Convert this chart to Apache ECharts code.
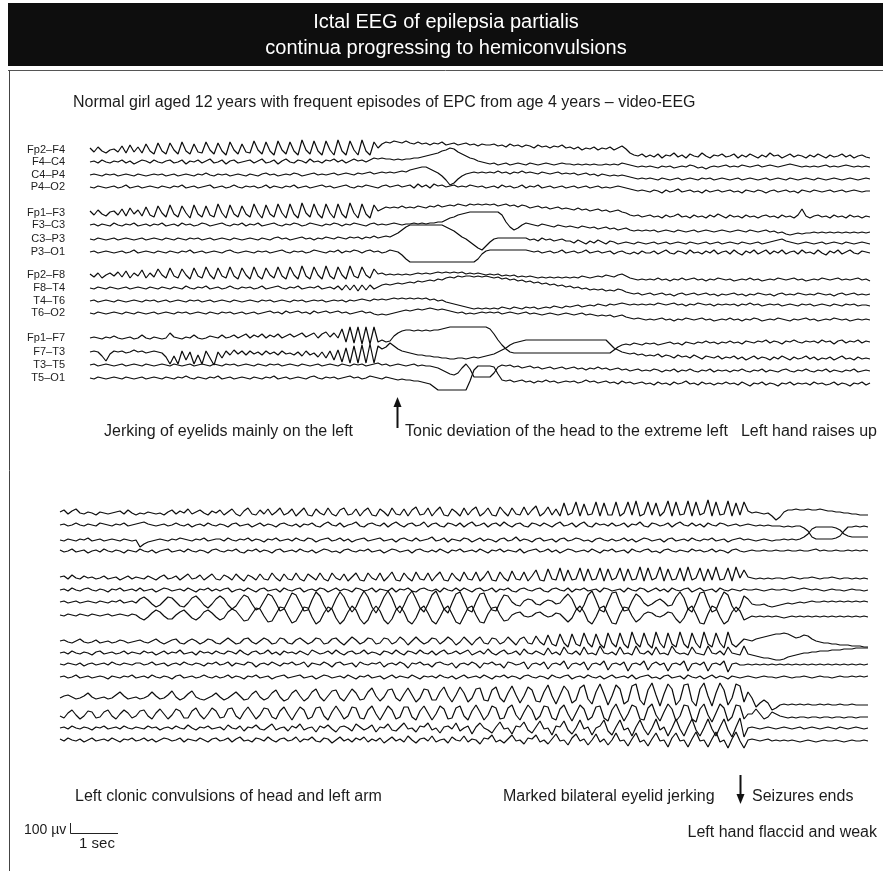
<!DOCTYPE html>
<html>
<head>
<meta charset="utf-8">
<script src="https://cdn.jsdelivr.net/npm/echarts@6/dist/echarts.min.js"></script>
<style>
  html, body { margin: 0; padding: 0; background: #ffffff; }
  #chart { width: 883px; height: 871px; }
</style>
</head>
<body>
<div id="chart"></div>
<script>
// ---- Montage (bipolar double banana) ----
const channelLabels = ['Fp2–F4', 'F4–C4', 'C4–P4', 'P4–O2',
                       'Fp1–F3', 'F3–C3', 'C3–P3', 'P3–O1',
                       'Fp2–F8', 'F8–T4', 'T4–T6', 'T6–O2',
                       'Fp1–F7', 'F7–T3', 'T3–T5', 'T5–O1'];

// ---- Page 1: onset (jerking of eyelids -> tonic deviation) ----
// deflection per sample, 1 unit = 10 µV, positive = up; 12 samples per second
const p1Fp2F4 = [2,-2,3,-1,-3,0,1,-2,4,-3,5,-2,3,-3,6,-1,-4,7,-1,-4,
  7,0,-4,8,-1,-4,6,-2,-3,8,0,-4,7,-1,-5,8,0,-4,6,-2,
  -3,9,0,-4,8,-1,-5,9,0,-4,8,-1,-5,10,0,-4,9,-1,-5,9,
  0,-5,10,-1,-5,9,0,-5,10,-1,-5,8,2,6,8,7,9,8,7,9,
  7,6,8,6,7,5,7,6,8,5,6,7,5,6,7,5,6,4,6,5,
  5,6,4,5,3,6,4,5,3,5,4,2,5,3,4,2,4,3,5,2,
  3,1,3,0,2,1,3,0,2,1,3,0,2,4,1,-3,-5,-6,-4,-7,
  -5,-7,-4,-8,-5,-6,-3,-7,-5,-8,-4,-6,-7,-3,-6,-8,-5,-6,-4,-7,
  -6,-4,-8,-5,-7,-4,-6,-8,-5,-7,-3,-6,-5,-8,-6,-4,-7,-5,-6,-8,
  -5,-7,-4,-6,-8,-5,-7,-6,-4,-7,-5,-8,-6,-5,-7,-8];
const p1F4C4 = [0,1,-1,2,0,-1,1,0,2,-1,1,-2,0,2,1,-1,2,0,-1,1,
  2,-1,0,2,-2,1,0,2,-1,1,3,-1,0,2,-2,1,2,-1,0,1,
  2,-1,1,3,-1,0,2,-2,1,3,0,-1,2,1,-1,3,0,1,-1,2,
  1,3,0,2,-1,1,3,1,2,0,2,4,3,4,3,3,2,3,2,3,
  3,4,4,5,6,7,8,9,11,12,14,13,10,8,6,4,3,1,0,-1,
  -2,-1,-3,-2,-1,-3,-2,-1,-2,-3,-1,-2,-3,-2,-1,-2,-3,-2,-1,-2,
  -2,-3,-2,-3,-2,-3,-2,-3,-3,-2,-3,-2,-3,-1,-2,-3,-4,-5,-4,-5,
  -4,-5,-6,-4,-5,-4,-6,-5,-4,-5,-3,-4,-6,-5,-7,-5,-4,-5,-4,-3,
  -5,-4,-5,-3,-4,-5,-4,-3,-5,-4,-3,-4,-5,-4,-3,-2,-3,-4,-5,-4,
  -5,-4,-5,-4,-3,-5,-4,-5,-4,-3,-4,-5,-4,-5,-4,-5];
const p1C4P4 = [0,1,0,-1,1,0,1,-1,0,1,0,-1,1,0,-1,0,1,0,1,-1,
  0,1,-1,0,1,0,-1,1,0,2,0,-1,1,0,1,-1,0,1,0,-1,
  1,0,-1,1,2,0,1,-1,0,1,0,2,1,-1,0,1,2,0,1,0,
  1,2,0,1,2,1,0,2,1,2,3,1,2,3,2,3,2,3,4,3,
  5,6,7,8,8,6,4,2,-1,-5,-10,-8,-4,-1,1,2,3,2,3,2,
  3,2,4,2,3,1,3,2,4,2,3,2,1,3,2,1,2,3,1,2,
  1,2,0,1,2,0,1,-1,1,0,-1,0,-1,0,-1,-2,-3,-4,-3,-4,
  -3,-4,-5,-3,-4,-5,-4,-3,-5,-4,-3,-4,-5,-3,-4,-3,-5,-4,-3,-4,
  -5,-4,-3,-5,-4,-3,-4,-5,-4,-3,-5,-4,-3,-4,-5,-3,-4,-5,-4,-3,
  -4,-5,-3,-4,-5,-4,-3,-4,-5,-4,-3,-4,-5,-4,-3,-4];
const p1P4O2 = [0,-1,1,0,-1,0,1,-1,0,2,-1,0,1,-1,0,1,0,-1,1,0,
  -1,1,0,2,-1,0,1,-1,0,1,2,-1,0,1,-1,0,2,0,-1,1,
  0,1,-1,0,2,-1,1,0,-1,1,0,2,-1,0,1,-1,0,1,2,0,
  1,-1,0,1,2,0,-1,1,0,2,1,0,-1,1,2,0,1,2,0,1,
  2,-1,3,0,2,-1,3,1,2,0,1,2,0,1,0,2,1,0,1,-1,
  0,1,-1,2,0,1,-1,0,2,-1,1,0,2,-1,0,1,-1,0,1,-1,
  0,1,-1,0,1,-1,0,1,-1,0,-1,0,1,0,-1,-2,-3,-4,-3,-4,
  -5,-3,-4,-6,-3,-5,-4,-2,-5,-4,-3,-5,-4,-6,-3,-5,-4,-3,-5,-4,
  -3,-5,-4,-6,-3,-4,-5,-3,-4,-6,-4,-3,-5,-4,-3,-5,-4,-6,-3,-4,
  -5,-3,-4,-5,-4,-3,-5,-4,-3,-5,-4,-3,-4,-5,-4,-4];
const p1Fp1F3 = [2,-2,3,-1,-3,1,2,-2,4,-3,5,-1,3,-3,6,-2,-4,7,0,-4,
  8,-1,-4,7,0,-5,8,-1,-4,7,-2,-4,9,0,-5,8,-1,-4,7,-1,
  -4,9,0,-5,8,-1,-4,9,0,-5,9,-1,-5,10,0,-4,9,-1,-5,9,
  0,-5,9,-1,-5,10,0,-5,9,-1,-5,8,2,4,6,5,6,5,7,5,
  6,5,7,6,5,7,6,8,6,7,8,7,9,8,7,9,8,9,8,9,
  8,9,7,8,9,7,8,6,8,7,5,6,7,5,6,4,5,6,4,5,
  4,3,5,3,4,2,3,4,2,3,1,2,3,1,0,-2,-3,-2,-4,-3,
  -2,-4,-3,-5,-2,-4,-3,-1,-4,-3,-5,-2,-4,-3,-5,-2,-4,-1,-3,-5,
  -2,-4,-3,-5,-2,-4,-3,-5,-3,-2,-4,-3,-5,-2,-4,-3,-5,-2,4,-3,
  -5,-3,-2,-4,-3,-5,-2,-4,-3,-5,-2,-4,-3,-5,-3,-4];
const p1F3C3 = [0,1,-1,1,0,-1,2,0,-1,1,0,2,-1,0,1,-1,1,0,2,-1,
  0,1,-1,2,0,1,-1,0,2,1,-1,0,1,2,0,-1,1,0,2,-1,
  1,0,2,-1,0,1,2,0,-1,1,0,2,1,-1,0,2,1,0,-1,1,
  0,2,1,-1,1,0,2,1,0,-1,1,2,0,1,0,1,2,1,0,1,
  1,2,1,2,1,2,2,3,3,5,7,8,10,11,12,13,13,13,13,13,
  13,13,13,10,3,-2,-5,-3,0,2,1,0,-1,1,0,-1,-2,0,-1,-2,
  -1,-2,-3,-1,-2,-3,-2,-4,-3,-2,-4,-3,-5,-4,-3,-5,-6,-5,-6,-5,
  -6,-5,-7,-6,-5,-6,-7,-5,-6,-7,-6,-5,-7,-6,-5,-6,-7,-6,-5,-6,
  -7,-6,-5,-6,-7,-5,-6,-7,-6,-5,-7,-6,-8,-7,-9,-10,-9,-8,-9,-8,
  -8,-7,-8,-7,-8,-7,-8,-7,-8,-7,-8,-7,-8,-7,-8,-7];
const p1C3P3 = [0,-1,1,0,-1,0,1,-1,0,1,0,-1,0,1,-1,0,1,0,-1,1,
  0,-1,1,0,-1,1,0,1,-1,0,1,-1,0,1,0,-1,1,0,-1,0,
  1,0,-1,1,0,-1,1,2,0,1,-1,0,1,2,0,1,-1,1,0,2,
  1,0,2,1,0,2,1,2,0,2,1,3,1,2,3,2,4,6,9,12,
  14,14,14,14,14,14,14,14,14,12,10,8,5,2,0,-3,-6,-9,-11,-7,
  -3,0,1,1,1,1,1,1,1,1,-1,0,-2,1,-1,0,-2,-1,0,-2,
  -2,-4,-1,-3,-5,-2,-4,-1,-3,-5,-2,-3,-5,-4,-3,-4,-5,-3,-4,-5,
  -4,-3,-5,-4,-3,-5,-4,-3,-4,-5,-3,-4,-5,-4,-3,-5,-4,-3,-5,-4,
  -3,-4,-5,-3,-4,-5,-4,-3,-5,-4,-3,-2,-1,0,-2,-3,-4,-5,-4,-3,
  -4,-5,-4,-3,-5,-4,-3,-4,-5,-3,-4,-5,-4,-3,-4,-5];
const p1P3O1 = [0,1,-1,0,1,0,-1,0,1,-1,0,2,-1,0,1,0,-1,1,0,-1,
  1,0,-1,1,0,2,-1,0,1,-1,0,1,0,-1,1,2,0,-1,0,1,
  0,-1,1,0,1,-1,0,1,2,0,-1,1,0,1,-1,0,2,1,0,-1,
  1,0,2,-1,1,0,2,1,-1,1,2,0,1,-1,0,2,1,0,-3,-7,
  -10,-10,-10,-10,-10,-10,-10,-10,-10,-10,-10,-10,-10,-10,-10,-10,-10,-7,-2,1,
  2,2,2,2,2,2,2,2,2,2,1,0,1,-1,0,1,-1,0,2,-1,
  0,1,-1,0,2,-1,0,1,-1,0,1,-2,0,1,-1,-2,0,-2,1,-1,
  -1,1,-2,0,2,-1,-2,1,0,-2,2,-1,0,-2,1,-1,2,-2,0,1,
  -2,2,-1,-3,1,-1,2,-2,0,2,-2,1,-1,2,-2,0,1,-2,2,-1,
  0,-2,2,-1,-3,1,-1,2,-2,0,2,-1,-2,1,0,-1];
const p1Fp2F8 = [1,-2,2,-3,0,2,-1,3,-2,4,-3,2,-1,5,-3,2,-2,6,0,-3,
  7,-1,-3,6,0,-4,7,-1,-3,8,0,-4,7,-1,-3,8,-1,-4,7,0,
  -4,8,-1,-4,7,0,-3,8,-1,-4,8,0,-4,9,-1,-4,8,0,-4,9,
  -1,-4,8,0,-4,9,-1,-3,8,0,-3,6,1,2,0,1,0,1,0,1,
  0,1,2,1,2,1,2,3,2,3,2,3,2,3,1,2,1,2,1,0,
  1,0,1,-1,0,-1,0,-2,-1,-2,-1,-2,-3,-2,-3,-2,-3,-2,-3,-2,
  -3,-2,-3,-1,-2,-3,-2,-1,-2,0,-1,-2,0,1,-1,-3,-4,-5,-4,-5,
  -4,-5,-3,-5,-4,-6,-4,-5,-3,-5,-4,-3,-5,-4,-6,-4,-5,-3,-4,-5,
  -4,-6,-5,-4,-5,-3,-5,-4,-6,-5,-4,-5,-3,-4,-5,-4,-3,-5,-4,-6,
  -5,-4,-5,-3,-4,-5,-4,-3,-5,-4,-5,-4,-3,-5,-4,-6];
const p1F8T4 = [0,-1,1,0,-1,1,0,-1,0,1,-1,0,1,0,-1,1,0,-1,1,0,
  -1,1,0,-1,2,0,-1,1,0,2,-1,0,1,-1,0,2,0,-1,1,0,
  1,-1,0,2,-1,0,1,2,0,-1,1,0,2,-1,0,1,0,2,-1,0,
  1,-1,2,-2,3,-2,3,-3,3,-2,3,-1,1,3,4,3,4,5,4,5,
  6,5,7,6,7,8,7,9,8,10,11,10,12,11,12,12,11,12,11,12,
  11,10,11,9,10,8,9,7,8,6,7,5,6,4,5,3,4,2,3,1,
  2,0,1,-1,0,-2,-1,-2,-1,-3,-2,-3,-1,-2,-4,-5,-6,-5,-7,-6,
  -5,-7,-6,-5,-7,-6,-8,-6,-5,-7,-6,-5,-7,-6,-5,-7,-6,-8,-6,-7,
  -6,-5,-7,-6,-8,-6,-7,-5,-6,-7,-6,-8,-6,-5,-7,-6,-7,-5,-6,-7,
  -6,-7,-5,-6,-7,-6,-8,-6,-5,-7,-6,-5,-7,-6,-7,-6];
const p1T4T6 = [0,1,-1,0,1,0,-1,1,0,-1,0,1,0,-1,1,0,1,-1,0,1,
  -1,0,1,0,-1,1,0,1,-1,0,1,-1,0,1,0,-1,1,0,-1,0,
  1,0,-1,1,0,1,-1,0,1,0,-1,1,0,1,-1,0,1,0,1,-1,
  0,1,0,1,-1,1,0,1,2,1,0,2,1,2,1,2,3,2,3,2,
  3,2,3,2,3,1,2,0,1,-1,-2,-3,-4,-5,-6,-7,-8,-7,-8,-7,
  -8,-7,-8,-6,-7,-8,-6,-7,-8,-6,-7,-6,-8,-7,-6,-7,-5,-6,-7,-5,
  -6,-5,-4,-6,-5,-4,-5,-3,-4,-5,-3,-4,-3,-2,-3,-4,-3,-4,-3,-4,
  -3,-4,-2,-3,-4,-3,-2,-4,-3,-5,-3,-4,-2,-3,-4,-3,-5,-3,-4,-3,
  -4,-3,-5,-3,-4,-2,-4,-3,-5,-4,-3,-4,-3,-5,-4,-3,-4,-5,-3,-4,
  -3,-5,-4,-3,-4,-5,-3,-4,-5,-3,-4,-3,-5,-4,-4,-5];
const p1T6O2 = [0,-1,1,0,-1,0,1,0,-1,1,0,-1,1,0,-1,0,1,-1,0,1,
  0,-1,1,0,1,-1,0,1,0,-1,1,0,-1,1,0,1,-1,0,1,-1,
  0,1,-1,0,1,2,0,1,-1,2,0,1,2,0,1,-1,2,0,1,2,
  0,1,2,0,1,-1,0,1,2,0,1,-1,-2,-1,-2,-1,0,1,2,3,
  2,3,4,3,4,5,4,3,4,3,2,1,0,1,-1,0,-1,0,1,0,
  1,0,1,-1,0,1,0,-1,0,1,-1,0,-1,-2,-1,0,-1,-2,-1,0,
  -1,-2,-1,0,-2,-1,-2,-3,-2,-3,-2,-4,-3,-2,-4,-5,-6,-5,-6,-7,
  -6,-7,-6,-5,-7,-6,-8,-6,-7,-5,-6,-7,-6,-5,-7,-6,-8,-7,-6,-7,
  -5,-7,-6,-8,-6,-7,-5,-6,-8,-7,-6,-7,-5,-6,-7,-8,-6,-7,-6,-5,
  -7,-6,-8,-7,-6,-7,-5,-6,-7,-6,-8,-7,-6,-7,-6,-7];
const p1Fp1F7 = [0,1,0,-1,1,0,2,0,-1,0,1,-1,0,3,0,-1,1,0,-1,0,
  5,1,0,-1,1,0,3,0,-1,0,2,1,0,3,0,1,3,0,2,4,
  0,3,1,4,0,3,1,4,0,2,4,1,3,5,1,3,5,0,4,6,
  1,5,0,9,-4,11,-5,11,-6,11,-6,11,-4,-2,-4,-3,2,5,7,8,
  8,7,8,7,8,7,8,8,9,10,11,11,11,11,11,11,11,11,11,11,
  9,4,-2,-7,-11,-14,-15,-15,-15,-15,-15,-15,-15,-15,-15,-15,-15,-15,-15,-15,
  -15,-15,-15,-15,-15,-15,-15,-15,-15,-15,-15,-12,-9,-7,-6,-7,-5,-6,-7,-5,
  -6,-5,-7,-6,-5,-4,-6,-5,-7,-4,-5,-6,-4,-5,-3,-5,-4,-6,-4,-5,
  -3,-5,-4,-6,-3,-4,-5,-3,-4,-2,-5,-3,-4,-6,-3,-4,-2,-4,-5,-3,
  -4,-3,-5,-2,-4,-3,-6,-3,-2,-5,-3,-4,-2,-5,-3,-4];
const p1F7T3 = [0,1,0,-4,-9,-2,1,0,1,-1,0,2,0,1,-1,0,1,0,-1,-5,
  -12,-4,-12,1,-8,0,-12,-3,-12,1,-6,-13,0,-6,1,-3,2,-2,1,-3,
  1,-2,0,-3,1,-2,0,-3,1,-2,-1,-3,0,-4,1,-3,-1,-5,0,-6,
  1,-8,2,-10,4,-11,6,-11,7,-11,8,-11,6,3,5,9,6,3,1,0,
  -1,-2,-3,-3,-4,-4,-5,-5,-6,-6,-7,-7,-6,-6,-7,-6,-5,-6,-5,-4,
  -3,-2,0,2,4,7,9,10,11,12,12,12,12,12,12,12,12,12,12,12,
  12,12,12,12,12,12,12,12,12,12,8,4,2,0,-1,-2,-1,-3,-2,-4,
  -3,-4,-2,-5,-3,-4,-6,-3,-5,-4,-6,-3,-5,-7,-4,-5,-6,-4,-7,-5,
  -6,-4,-7,-5,-8,-6,-4,-7,-5,-6,-8,-5,-7,-4,-6,-8,-5,-7,-6,-4,
  -7,-5,-8,-6,-7,-5,-8,-6,-4,-7,-6,-8,-5,-7,-6,-7];
const p1T3T5 = [0,1,-1,0,1,0,-1,0,1,-1,0,1,0,-1,1,0,-1,0,1,0,
  -1,1,0,-1,0,1,-1,0,1,0,-1,1,0,-1,1,0,1,-1,0,1,
  0,-1,1,0,-1,1,0,1,-1,0,1,0,-1,1,0,-1,0,1,-1,0,
  1,0,-1,1,0,-1,1,0,1,-1,0,1,2,0,1,-1,0,1,0,-1,
  0,1,-1,0,-1,-1,-2,-3,-5,-7,-9,-10,-8,-3,1,-4,-12,-12,-12,-12,
  -12,-8,-2,0,-1,0,-2,-1,-3,-2,-1,-3,-2,-4,-3,-2,-4,-3,-2,-4,
  -3,-2,-4,-3,-5,-3,-4,-2,-4,-3,-5,-4,-3,-5,-4,-6,-5,-4,-6,-5,
  -6,-4,-5,-7,-5,-6,-4,-7,-5,-6,-4,-6,-7,-5,-6,-4,-7,-5,-6,-5,
  -7,-5,-6,-4,-6,-7,-5,-6,-4,-7,-5,-6,-7,-5,-4,-6,-7,-5,-6,-4,
  -6,-7,-5,-6,-4,-7,-5,-6,-7,-5,-6,-4,-7,-6,-5,-6];
const p1T5O1 = [0,-1,1,0,-1,0,1,0,-1,1,0,-1,0,1,-1,0,1,0,-1,1,
  0,-1,1,0,2,0,-1,1,0,-1,1,0,2,-1,0,1,-1,0,1,0,
  -1,1,0,-1,1,0,2,-1,0,1,-1,0,1,0,-1,1,2,0,-1,1,
  0,1,-1,0,1,2,0,1,-1,0,2,1,0,-1,1,0,-1,-2,-1,-2,
  -2,-3,-3,-4,-5,-6,-9,-12,-12,-12,-12,-12,-12,-12,-12,-3,8,12,12,12,
  12,11,4,-2,-3,-2,-4,-3,-2,-4,-3,-5,-3,-4,-2,-4,-3,-5,-4,-3,
  -4,-3,-5,-4,-2,-4,-3,-5,-4,-3,-5,-4,-6,-3,-5,-4,-6,-5,-4,-6,
  -5,-7,-4,-6,-5,-7,-4,-6,-5,-3,-6,-5,-7,-4,-6,-5,-7,-5,-6,-4,
  -6,-5,-7,-4,-6,-8,-5,-6,-4,-7,-5,-6,-8,-5,-6,-4,-7,-5,-6,-5,
  -7,-4,-6,-5,-7,-6,-4,-7,-5,-6,-8,-5,-6,-4,-7,-5];

// ---- Page 2: clonic phase (left clonic convulsions -> seizure end) ----
const p2Fp2F4 = [1,3,-1,2,4,0,-1,1,0,-2,1,0,-1,0,1,2,-1,3,0,-2,
  0,-1,1,0,-1,0,-2,1,3,-1,2,0,4,-1,1,3,0,-2,2,0,
  3,-2,1,4,-1,-3,2,5,-1,-2,3,-1,4,-2,1,5,-2,0,4,-3,
  1,5,-2,-3,4,0,-2,5,-1,-3,3,5,-2,-1,4,-3,2,5,-2,-3,
  4,1,-3,5,-1,-2,4,-3,3,6,-2,-1,5,-3,2,6,-2,-3,4,1,
  -3,5,-2,3,6,-3,0,5,-2,-3,6,1,-3,5,-1,-2,6,-2,3,7,
  -3,0,6,-2,4,-3,10,-2,0,11,-3,9,-2,-1,11,-3,10,-2,-2,11,
  -3,0,11,-2,12,-3,-1,11,-2,10,-3,1,12,-3,11,-2,-1,12,-3,11,
  -2,0,13,-3,11,-2,-1,12,-3,10,-2,11,2,0,1,0,-1,0,-3,-7,
  -4,1,3,3,4,3,3,4,3,3,4,3,2,2,1,1,0,0,-1,-1,
  -2,-2,-2];
const p2F4C4 = [0,1,-1,0,2,0,-1,1,0,-1,2,1,0,-1,1,0,2,-1,0,1,
  2,3,1,0,-1,0,1,-1,0,2,0,-1,1,-2,0,1,-1,2,0,-1,
  1,0,-2,1,2,-1,0,1,-2,0,2,-1,1,0,-2,1,2,0,-1,1,
  -2,1,0,2,-1,-2,1,3,0,-1,2,-2,0,1,3,-1,-2,1,2,0,
  -1,2,-2,1,3,0,-2,1,2,-1,0,3,-2,1,2,-1,-2,2,1,-1,
  2,-2,1,3,-1,0,2,-2,1,2,-1,3,0,-2,1,2,-1,-2,2,1,
  -1,2,0,-2,1,3,-1,0,2,-2,1,3,-1,-2,2,0,1,-1,2,-1,
  0,2,-2,1,0,3,-1,-2,2,1,-1,0,2,-2,1,3,0,-1,2,-1,
  1,-2,2,0,-1,2,1,-1,0,1,-1,0,1,0,-1,0,-1,0,-1,-1,
  -1,-2,-1,-2,-1,-1,-3,-6,-12,-14,-14,-14,-14,-14,-13,-11,-6,-2,-2,-1,
  -2,-1,-2];
const p2C4P4 = [0,-1,1,0,-1,1,0,2,-1,0,1,-1,0,1,0,-1,1,0,-1,0,
  -7,-4,-2,-1,0,1,0,-1,1,0,2,1,0,-1,1,0,2,-1,0,1,
  1,-1,2,0,-1,1,0,2,-1,1,0,-2,1,0,2,-1,0,1,-1,2,
  0,-1,2,1,-2,0,1,2,-1,0,2,-1,1,-2,0,1,2,-1,0,1,
  2,-1,0,1,-2,1,2,0,-1,2,-1,0,1,3,-1,0,2,-2,1,0,
  -1,2,1,-2,0,2,-1,1,0,-2,1,2,-1,0,3,-1,1,0,-2,1,
  2,-1,0,1,-2,1,2,-1,0,2,1,-1,0,-2,1,2,0,-1,1,-1,
  0,2,-1,1,-2,0,2,1,-1,0,1,-2,1,2,-1,0,1,-1,2,0,
  -1,1,0,2,-1,0,1,-2,0,1,2,0,1,0,-1,0,1,0,-1,0,
  0,1,0,1,0,1,3,6,11,13,13,13,13,13,12,10,6,4,3,3,
  3,3,3];
const p2P4O2 = [1,-1,0,2,-1,0,1,-2,0,1,-1,2,0,-1,1,0,-2,1,0,-1,
  2,0,-1,1,-2,0,1,2,-1,0,1,-1,2,0,-1,1,0,-2,1,2,
  0,-1,1,0,2,-1,-2,1,0,2,-1,1,0,-2,1,2,-1,0,1,-1,
  2,0,-1,1,-2,0,2,1,-1,0,-2,1,2,0,-1,1,0,2,-1,0,
  1,-2,0,2,1,-1,0,1,-2,1,2,0,-1,1,-1,2,0,-2,1,0,
  2,-1,0,1,-1,2,0,-2,1,0,2,-1,1,0,-1,2,-2,0,1,2,
  -1,0,2,-1,1,-2,0,2,1,-1,0,1,-1,2,0,-2,1,0,2,-1,
  0,1,-2,2,0,-1,1,2,-1,0,-2,1,2,0,-1,1,0,-1,2,0,
  1,-1,0,2,-1,1,0,-2,1,2,0,-1,0,1,0,0,1,0,0,1,
  0,0,1,0,0,1,0,0,1,2,0,1,0,0,1,0,0,1,0,1,
  0,1,0];
const p2Fp1F3 = [1,2,-1,3,0,-1,2,0,1,-1,0,2,-1,0,1,-2,0,2,-1,1,
  0,-1,2,0,-2,1,3,-1,0,2,-2,1,4,-1,0,3,-2,1,4,-1,
  -2,3,1,-2,4,0,-3,3,1,-2,4,-1,-2,5,0,-3,4,-1,-2,5,
  -1,-3,4,1,-2,5,-1,-3,5,0,-2,4,-3,1,5,-2,-3,5,0,-2,
  5,-3,1,6,-2,-3,5,0,-3,6,-1,-2,5,-3,2,6,-2,-3,5,0,
  -3,6,-1,-2,6,-3,1,7,-2,-3,6,0,-3,7,-1,-2,6,-3,2,8,
  -2,-3,9,-1,-2,10,-3,8,-2,-1,10,-3,9,-2,-1,10,-3,9,-2,0,
  10,-3,9,-2,-1,11,-3,10,-2,0,11,-3,9,-2,-1,10,-3,11,-2,0,
  10,-3,9,-2,11,-2,-1,10,-3,11,0,8,1,0,-1,0,-1,0,-1,0,
  0,-1,0,1,0,-1,0,0,1,0,-1,0,0,1,0,-1,0,0,-1,0,
  -1,0,-1];
const p2F3C3 = [0,1,-1,2,0,-1,1,2,0,-1,1,0,-2,1,0,2,-1,0,1,-1,
  2,-1,0,1,-2,0,2,1,-1,0,1,-1,2,0,-2,1,0,2,-1,1,
  -1,1,2,-2,0,1,-1,2,0,-2,1,2,-1,0,1,-2,2,0,-1,1,
  2,-2,0,1,-1,2,1,-2,0,2,-1,1,0,-2,2,1,-1,0,2,-2,
  1,0,-1,2,-2,1,0,2,-1,-2,1,2,0,-1,1,-2,2,0,-1,2,
  -1,2,0,-2,1,2,-1,0,2,-2,1,0,2,-1,-2,1,2,0,-1,1,
  2,-1,-2,1,2,0,-1,2,-2,1,0,2,-1,0,1,-2,2,1,-1,0,
  1,-2,2,0,-1,2,1,-2,0,2,-1,1,-2,2,0,-1,1,2,-2,0,
  2,-1,0,1,-2,2,0,-1,1,0,-1,1,0,0,1,0,-1,0,1,0,
  0,1,0,-1,0,1,2,1,0,1,0,-1,0,1,0,0,-1,0,1,0,
  0,-1,0];
const p2C3P3 = [0,1,-1,0,1,-1,0,1,0,-1,1,0,-1,1,0,2,-1,0,1,-1,
  3,5,2,-2,-5,-3,1,5,4,0,-4,-5,-1,4,6,2,-3,-6,-2,3,
  6,3,-3,-7,-4,2,7,5,-2,-8,-6,1,8,6,-1,-9,-7,1,9,7,
  -1,-9,-8,2,10,6,-3,-10,-6,3,10,5,-4,-10,-5,4,11,5,-5,-11,
  -4,5,11,4,-6,-11,-3,6,11,3,-6,-10,-2,7,11,2,-7,-11,-1,8,
  10,1,-8,-10,0,8,9,-1,-8,-9,0,7,6,0,-3,-4,1,3,2,-2,
  -3,0,2,1,-2,-1,4,8,3,-6,-10,-3,7,11,2,-8,-10,0,9,10,
  -1,-9,-8,1,8,5,-1,-4,-2,1,3,0,-4,-3,5,10,4,-7,-10,-1,
  9,10,-1,-10,-8,2,10,7,-4,-10,-5,6,3,-2,-3,-3,-2,-4,-5,-4,
  -3,-2,-1,-2,-1,0,-1,0,1,0,0,1,0,1,0,1,0,1,0,1,
  0,1,0];
const p2P3O1 = [0,-1,1,0,-1,1,0,-1,1,0,-1,0,1,-1,0,1,0,-1,1,0,
  -3,-5,-2,2,5,3,-1,-4,-4,0,3,5,1,-3,-5,-2,3,5,2,-2,
  -5,-3,3,6,4,-1,-6,-5,1,7,6,-1,-7,-6,1,8,7,-1,-8,-6,
  1,8,7,-2,-9,-6,2,8,6,-3,-9,-5,3,9,5,-4,-9,-5,4,9,
  4,-5,-9,-4,5,9,3,-6,-9,-3,6,9,2,-6,-9,-2,6,9,1,-7,
  -9,-1,7,9,0,-7,-8,1,7,8,0,-6,-5,0,2,3,-1,-2,-1,2,
  3,0,-2,-1,2,1,-3,-7,-3,5,9,3,-6,-9,-2,7,9,0,-8,-9,
  1,8,7,-1,-7,-4,1,3,2,-1,-2,0,3,2,-4,-8,-3,6,9,1,
  -8,-9,1,9,7,-2,-9,-6,3,8,4,-5,-3,-1,-2,-1,-2,-1,-2,-1,
  -2,-3,-2,-1,-2,-1,-2,-1,-2,-1,-2,-1,-2,-1,-2,-1,-2,-1,-2,-1,
  -2,-1,-2];
const p2Fp2F8 = [1,2,0,-1,1,3,0,-1,0,2,-1,0,1,-1,0,2,1,-1,0,1,
  2,0,-1,1,3,0,-2,0,2,3,-1,-2,1,3,1,-2,0,3,2,-1,
  -2,1,4,1,-2,-1,3,4,0,-2,1,4,2,-2,-1,4,3,-1,-2,2,
  4,1,-2,0,4,3,-2,-1,3,4,0,-3,1,5,2,-2,0,4,3,-2,
  -1,4,3,-2,0,5,2,-3,1,5,1,-2,0,4,3,-2,1,5,2,-3,
  0,5,1,-3,2,5,-1,-2,4,3,-2,0,5,1,-3,3,5,-1,-2,6,
  0,-3,7,-2,-4,8,-1,-5,8,-2,-4,9,-1,-5,8,-2,-6,9,-1,-5,
  9,-2,-6,10,-1,-5,9,-2,-6,10,-1,-6,9,-2,-5,10,-2,-6,9,-1,
  -6,10,-2,-5,9,-1,-6,10,-2,-5,-1,3,2,1,3,4,5,6,7,8,
  8,9,8,6,4,5,7,6,3,1,0,-1,-1,-2,-2,-3,-3,-3,-4,-4,
  -4,-5,-5];
const p2F8T4 = [0,1,-1,2,0,-1,1,0,-2,1,2,-1,0,1,-1,0,2,-1,1,0,
  -1,2,0,1,-2,0,2,-1,1,0,3,-1,0,1,-2,2,0,1,-1,2,
  0,-1,2,1,-1,3,0,-2,1,2,-1,0,3,-1,1,-2,2,0,1,-1,
  2,0,-2,3,1,-1,0,2,-1,3,0,-2,1,2,-1,0,3,-1,1,0,
  -2,2,1,-1,3,0,-2,2,1,-1,3,0,-1,2,-2,1,3,-1,0,2,
  -1,1,3,-2,0,2,-1,4,0,-2,1,3,-1,0,2,-2,4,0,-1,2,
  0,-2,5,-1,1,-2,6,0,-1,2,-2,6,-1,0,-2,7,0,-1,1,-2,
  6,-1,0,-2,7,0,-1,2,-2,6,-1,0,-2,7,1,-1,0,-2,6,0,
  -1,-2,7,0,-1,2,-2,6,0,-1,-2,7,-1,-2,-3,-4,-5,-5,-6,-7,
  -7,-6,-4,-3,-2,-1,0,0,1,1,2,2,2,3,3,3,4,4,4,5,
  5,5,5];
const p2T4T6 = [0,-1,1,0,-1,1,-2,0,1,-1,0,1,-1,2,0,-1,1,0,-1,1,
  1,-1,0,2,-1,0,1,-2,0,1,-1,2,0,-1,1,0,-2,1,0,2,
  -1,0,2,-2,1,0,-1,2,1,-3,0,1,-1,2,0,-2,1,0,2,-1,
  0,2,-3,1,0,-1,2,0,-3,1,2,-1,0,1,-3,2,0,-1,1,0,
  2,-3,0,1,-1,2,0,-4,1,0,2,-1,0,-3,1,2,0,-1,1,-4,
  0,1,-1,2,0,-4,1,0,2,-1,0,-4,2,1,-1,0,2,-5,0,1,
  -1,2,-5,0,1,-1,3,-5,0,1,-1,2,-6,0,1,-1,3,-6,0,1,
  -1,2,-7,0,1,-1,3,-6,0,2,-1,1,-7,0,1,-1,3,-7,0,1,
  -1,2,-7,0,1,-1,3,-8,0,1,-1,-1,0,-1,0,-1,0,-1,0,-1,
  0,-1,0,-1,0,-1,0,-1,0,-1,0,-1,0,-1,0,-1,0,-1,0,-1,
  0,-1,0];
const p2T6O2 = [0,1,-1,0,2,-1,0,1,-1,0,1,0,-2,1,0,-1,1,0,2,-1,
  0,1,-1,2,0,-1,1,0,-2,1,2,-1,0,1,-1,0,2,0,-1,1,
  -1,0,2,-1,1,0,-2,1,0,2,-1,0,1,-2,0,1,2,-1,0,1,
  2,-1,0,1,-2,0,2,1,-1,0,1,-1,2,0,-2,1,0,2,-1,0,
  1,-2,0,2,-1,1,0,-1,2,0,-2,1,0,1,-1,2,0,-1,1,-2,
  0,2,-1,0,1,-1,2,0,-2,1,0,2,-1,1,0,-2,1,2,0,-1,
  1,0,-2,2,0,-1,1,2,-2,0,1,-1,2,0,-1,1,-2,0,2,-1,
  0,1,-1,2,-2,0,1,2,-1,0,-2,1,2,-1,0,1,-2,2,0,-1,
  1,-2,0,2,-1,1,0,-2,1,0,-1,0,1,0,-1,0,1,0,0,-1,
  0,1,0,-1,0,0,1,0,-1,0,1,0,0,-1,0,1,0,0,1,0,
  1,0,1];
const p2Fp1F7 = [0,2,3,1,-1,0,2,5,1,-1,0,1,-1,0,3,6,2,-1,0,1,
  -1,0,2,6,2,-1,0,3,7,1,-2,0,4,7,1,-1,-2,0,2,5,
  1,-2,0,3,6,2,-2,-1,4,7,1,-2,0,5,8,1,-3,-1,5,8,
  2,-3,0,6,9,1,-3,2,7,8,0,-3,3,9,5,-2,-1,6,10,2,
  -3,1,8,9,0,-3,4,10,3,-4,0,9,8,-2,-2,6,11,2,-4,3,
  11,5,-4,0,9,10,-2,-3,8,11,0,-4,5,12,3,-5,2,11,8,-3,
  -4,6,13,2,-6,3,12,7,-5,-2,10,13,-1,-6,6,14,4,-7,2,13,
  9,-6,-3,12,14,-2,-7,8,15,3,-8,4,14,9,-7,-2,13,14,-3,-8,
  9,15,2,-8,5,15,8,-7,0,14,12,-4,6,0,-9,-5,-2,-5,-12,-10,
  -7,-6,-7,-6,-7,-6,-7,-6,-7,-7,-6,-7,-6,-7,-7,-6,-7,-7,-6,-7,
  -7,-7,-7];
const p2F7T3 = [0,-2,3,6,1,-3,0,5,4,-2,-1,4,6,0,-3,2,6,3,-2,0,
  5,6,0,-3,3,7,2,-3,1,7,5,-2,-2,5,8,1,-3,2,8,5,
  -2,-1,7,8,0,-3,4,9,3,-3,1,8,7,-1,-3,5,9,2,-4,3,
  9,6,-3,-1,8,9,0,-4,4,10,4,-3,0,9,8,-2,-3,6,10,2,
  -4,3,10,6,-3,-1,9,9,-1,-4,5,10,3,-4,2,10,7,-3,-2,8,
  10,0,-4,5,11,4,-4,1,10,8,-3,-2,8,11,1,-4,4,11,6,-4,
  0,10,9,-2,-4,7,11,2,-5,3,11,7,-4,-1,9,10,-2,-5,6,12,
  3,-5,2,11,9,-3,-4,8,12,1,-5,4,12,7,-5,0,11,10,-3,-6,
  7,12,1,-6,3,12,8,-5,-1,11,10,-3,2,2,7,2,-3,-1,4,2,
  0,-1,-2,-1,-2,-1,-1,-2,-1,-1,-2,-1,-1,-2,-1,-1,-2,-1,-1,-2,
  -1,-1,-1];
const p2T3T5 = [0,1,-1,2,0,-1,1,0,-2,1,0,2,-1,0,1,-1,2,0,-1,1,
  0,-1,2,0,1,-2,0,1,-1,2,0,-1,3,0,-2,1,0,2,-1,0,
  1,-2,3,0,-1,2,-3,1,0,3,-1,-2,1,4,-2,0,1,-3,2,0,
  4,-2,0,1,-4,2,0,3,-1,-4,1,2,0,-3,4,1,-2,0,3,-4,
  1,0,4,-2,-3,1,5,-1,0,-4,2,1,5,-2,0,-5,1,2,-1,5,
  -3,0,2,-6,1,5,0,-2,-5,1,6,-1,0,-6,2,1,6,-2,-5,1,
  7,-1,0,-7,2,1,7,-2,-6,0,8,-1,1,-7,0,2,8,-3,-7,1,
  8,-2,0,-8,1,8,-1,-7,0,9,-2,1,-8,0,9,-1,-8,1,9,-2,
  -8,0,9,-1,-8,1,9,-2,-9,1,10,-9,0,1,0,-1,0,1,0,-1,
  0,1,0,-1,0,1,-1,0,1,0,-1,0,1,0,-1,1,0,-1,0,1,
  0,-1,0];
const p2T5O1 = [1,-1,2,0,-1,1,-2,0,2,-1,0,1,-1,2,0,-2,1,0,2,-1,
  0,2,-1,1,-2,0,2,1,-1,0,2,-2,1,0,-1,2,0,-2,1,2,
  -1,0,2,-2,1,3,-1,0,-2,2,1,-1,3,0,-2,1,2,-1,0,3,
  -2,1,0,3,-1,-2,2,1,-3,0,3,-1,1,-2,2,0,3,-2,1,-1,
  2,-3,0,3,-1,1,-2,4,0,-3,1,2,-1,4,-2,0,1,-3,3,0,
  -1,4,-2,1,0,-4,2,1,5,-2,0,-3,1,5,-1,0,-4,2,1,5,
  -2,0,-4,1,6,-1,0,-5,2,6,-1,1,-5,0,6,-2,1,-5,0,7,
  -1,0,-6,1,7,-2,0,-6,1,7,-1,0,-7,2,7,-1,0,-7,1,8,
  -1,0,-7,1,8,-2,0,-8,1,8,-1,-8,0,1,0,-1,0,1,-1,0,
  -1,0,-1,0,-1,-2,-1,0,-1,-2,-1,0,-1,-1,0,-1,-2,-1,0,-1,
  -1,0,-1];

const page1 = [p1Fp2F4, p1F4C4, p1C4P4, p1P4O2, p1Fp1F3, p1F3C3, p1C3P3, p1P3O1,
               p1Fp2F8, p1F8T4, p1T4T6, p1T6O2, p1Fp1F7, p1F7T3, p1T3T5, p1T5O1];
const page2 = [p2Fp2F4, p2F4C4, p2C4P4, p2P4O2, p2Fp1F3, p2F3C3, p2C3P3, p2P3O1,
               p2Fp2F8, p2F8T4, p2T4T6, p2T6O2, p2Fp1F7, p2F7T3, p2T3T5, p2T5O1];

// ---- Layout: vertical position of each channel row (page pixels) ----
const rowsPage1 = [150, 162, 175, 187, 213, 225, 239, 252, 275, 288, 301, 313, 338, 352, 365, 378];
const rowsPage2 = [513, 525, 540, 551, 578, 590, 602, 615, 642, 653, 664, 677, 698, 716, 728, 740];

const FONT = '"Liberation Sans", Arial, Helvetica, sans-serif';
const INK = '#0c0c0c';

const chart = echarts.init(document.getElementById('chart'), null, { renderer: 'canvas' });

function traceSeries(values, row, axis) {
  return {
    type: 'line',
    xAxisIndex: axis,
    yAxisIndex: axis,
    data: values.map((v, i) => [i, row - v]),
    showSymbol: false,
    symbol: 'none',
    silent: true,
    lineStyle: { color: INK, width: 1.2 },
    z: 3
  };
}

const series = [];
page1.forEach((tr, k) => series.push(traceSeries(tr, rowsPage1[k], 0)));
page2.forEach((tr, k) => series.push(traceSeries(tr, rowsPage2[k], 1)));

function txt(text, x, y, size, align, fill) {
  return {
    type: 'text', silent: true, z: 10,
    style: { text: text, x: x, y: y, fill: fill || '#1c1c1c', font: size + 'px ' + FONT,
             align: align || 'left', verticalAlign: 'middle' }
  };
}

const graphics = [
  // title band
  { type: 'rect', silent: true, shape: { x: 8, y: 3, width: 875, height: 63 }, style: { fill: '#0e0e0e' } },
  txt('Ictal EEG of epilepsia partialis', 446, 22, 20, 'center', '#ffffff'),
  txt('continua progressing to hemiconvulsions', 446, 48, 20, 'center', '#ffffff'),
  // panel frame
  { type: 'line', silent: true, shape: { x1: 8, y1: 70.5, x2: 883, y2: 70.5 }, style: { stroke: '#555', lineWidth: 1 } },
  { type: 'line', silent: true, shape: { x1: 9.5, y1: 70, x2: 9.5, y2: 871 }, style: { stroke: '#444', lineWidth: 1 } },
  txt('Normal girl aged 12 years with frequent episodes of EPC from age 4 years – video-EEG', 73, 103, 16, 'left'),
  // page 1 notes
  txt('Jerking of eyelids mainly on the left', 104, 432, 16, 'left'),
  txt('Tonic deviation of the head to the extreme left', 405, 432, 16, 'left'),
  txt('Left hand raises up', 877, 432, 16, 'right'),
  { type: 'line', silent: true, shape: { x1: 397.5, y1: 428, x2: 397.5, y2: 404 }, style: { stroke: '#111', lineWidth: 2 } },
  { type: 'polygon', silent: true, shape: { points: [[397.5, 397], [393.5, 407], [401.5, 407]] }, style: { fill: '#111' } },
  // page 2 notes
  txt('Left clonic convulsions of head and left arm', 75, 797, 16, 'left'),
  txt('Marked bilateral eyelid jerking', 503, 797, 16, 'left'),
  txt('Seizures ends', 752, 797, 16, 'left'),
  txt('Left hand flaccid and weak', 877, 833, 16, 'right'),
  { type: 'line', silent: true, shape: { x1: 740.5, y1: 775, x2: 740.5, y2: 797 }, style: { stroke: '#111', lineWidth: 2 } },
  { type: 'polygon', silent: true, shape: { points: [[740.5, 804], [736.5, 794], [744.5, 794]] }, style: { fill: '#111' } },
  // calibration
  txt('100 µv', 24, 830, 14, 'left'),
  { type: 'polyline', silent: true, shape: { points: [[70.5, 823], [70.5, 833.5], [118, 833.5]] }, style: { stroke: '#222', lineWidth: 1, fill: null } },
  txt('1 sec', 97, 844, 15, 'center')
];
channelLabels.forEach((lab, k) => graphics.push(txt(lab, 65, rowsPage1[k], 11, 'right')));

chart.setOption({
  animation: false,
  backgroundColor: '#ffffff',
  grid: [
    { left: 90, width: 780, top: 0, height: 871 },
    { left: 60, width: 808, top: 0, height: 871 }
  ],
  xAxis: [
    { type: 'value', gridIndex: 0, min: 0, max: 195, show: false },
    { type: 'value', gridIndex: 1, min: 0, max: 202, show: false }
  ],
  yAxis: [
    { type: 'value', gridIndex: 0, min: 0, max: 871, inverse: true, show: false },
    { type: 'value', gridIndex: 1, min: 0, max: 871, inverse: true, show: false }
  ],
  series: series,
  graphic: graphics
});
</script>
</body>
</html>
